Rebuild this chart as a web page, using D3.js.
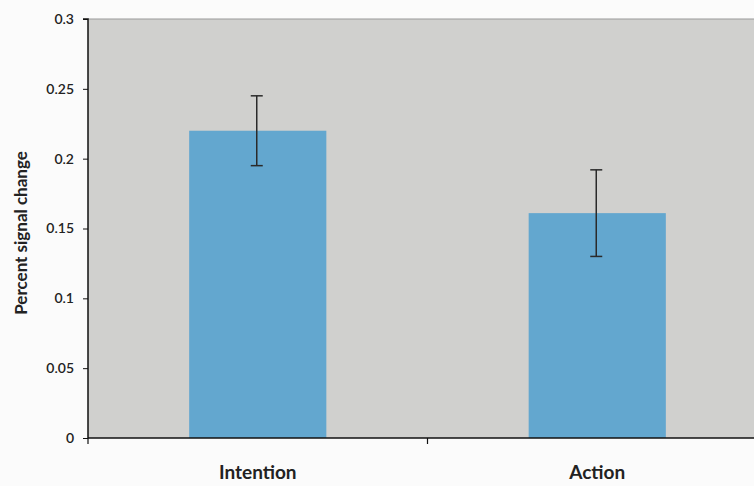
<!DOCTYPE html>
<html><head><meta charset="utf-8">
<script src="https://cdn.jsdelivr.net/npm/d3@7"></script>
<style>body{margin:0;background:#fbfbfb;} svg{display:block;}</style>
</head><body>
<svg id="c" width="754" height="486"></svg>
<script>
const categories = ["Intention", "Action"];
const values = [0.22, 0.161];
const errors = [0.025, 0.031];
const yTicks = [0, 0.05, 0.1, 0.15, 0.2, 0.25, 0.3];
const yTickLabels = ["0", "0.05", "0.1", "0.15", "0.2", "0.25", "0.3"];

(function () {
const svg = d3.select("#c");
const pL = 88, pR = 767, pT = 19, pB = 438;
const x = d3.scaleBand().domain(categories).range([pL, pR]).padding(0);
const y = d3.scaleLinear().domain([0, 0.3]).range([pB, pT]);
const font = "Lato, 'DejaVu Sans', sans-serif";

svg.append("rect").attr("x", pL).attr("y", pT).attr("width", pR - pL).attr("height", pB - pT).attr("fill", "#d0d0ce");
svg.append("line").attr("x1", pL).attr("x2", pR).attr("y1", pT).attr("y2", pT).attr("stroke", "#999").attr("stroke-width", 1);

const bw = x.bandwidth() * 0.404;
svg.selectAll("rect.bar").data(categories).enter().append("rect")
  .attr("class", "bar")
  .attr("x", d => x(d) + x.bandwidth() / 2 - bw / 2)
  .attr("y", (d, i) => y(values[i]))
  .attr("width", bw)
  .attr("height", (d, i) => y(0) - y(values[i]))
  .attr("fill", "#63a7cf");

// error bars
categories.forEach((d, i) => {
  const cx = x(d) + x.bandwidth() / 2 - 1;
  const g = svg.append("g").attr("stroke", "#2a2a2a").attr("stroke-width", 1.5);
  g.append("line").attr("x1", cx).attr("x2", cx).attr("y1", y(values[i] + errors[i])).attr("y2", y(values[i] - errors[i]));
  [values[i] + errors[i], values[i] - errors[i]].forEach(v => {
    g.append("line").attr("x1", cx - 6).attr("x2", cx + 6).attr("y1", y(v)).attr("y2", y(v));
  });
});

// y axis
const yAxis = d3.axisLeft(y).tickValues(yTicks).tickFormat((d, i) => yTickLabels[i]).tickSize(5).tickPadding(9);
const ya = svg.append("g").attr("transform", `translate(${pL},0)`).call(yAxis);
ya.select(".domain").attr("stroke", "#111").attr("stroke-width", 1.5).attr("d", `M-5,${pT}H0V${pB}`);
ya.selectAll(".tick line").attr("stroke", "#111");
ya.selectAll("text").attr("font-family", font).attr("font-size", 14).attr("font-weight", 600).attr("fill", "#222");

// x axis
const xAxis = d3.axisBottom(x).tickValues([]).tickSize(0);
const xa = svg.append("g").attr("transform", `translate(0,${pB})`).call(xAxis);
xa.select(".domain").attr("stroke", "#111").attr("stroke-width", 1.5).attr("d", `M${pL},0H${pR}`);
[x.range()[0], x(categories[1])].forEach(t => {
  xa.append("line").attr("x1", t).attr("x2", t).attr("y1", 0).attr("y2", 6).attr("stroke", "#111").attr("stroke-width", 1.2);
});
svg.selectAll("text.cat").data(categories).enter().append("text")
  .attr("class", "cat")
  .attr("x", d => x(d) + x.bandwidth() / 2)
  .attr("y", 479)
  .attr("text-anchor", "middle")
  .attr("font-family", font).attr("font-size", 19).attr("font-weight", "bold").attr("fill", "#222")
  .text(d => d);

svg.append("text")
  .attr("transform", `translate(27,233) rotate(-90)`)
  .attr("text-anchor", "middle")
  .attr("font-family", font).attr("font-size", 17).attr("font-weight", "bold").attr("fill", "#222")
  .text("Percent signal change");
})();
</script>
</body></html>
